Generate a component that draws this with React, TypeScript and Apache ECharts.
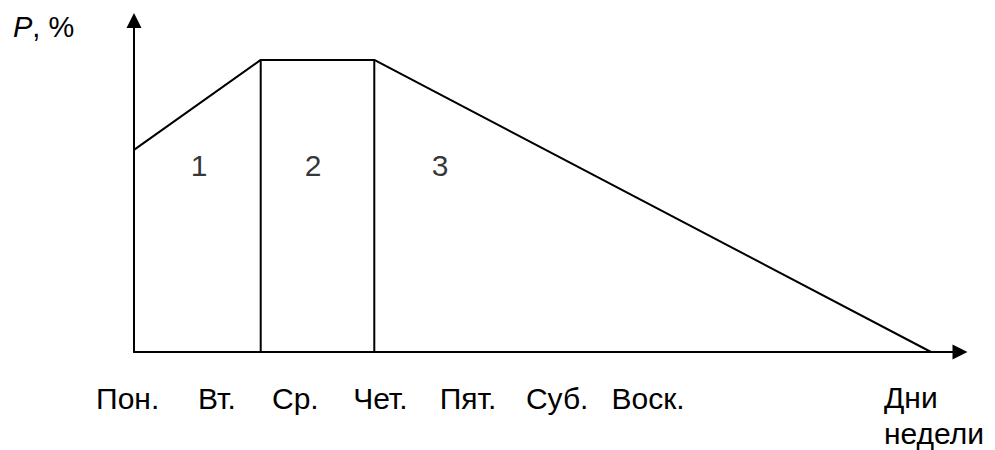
import React, { useEffect, useRef } from "react";
import * as echarts from "echarts";

// Day labels along the horizontal axis and their positions (axis units)
const dayLabels = ["Пон.", "Вт.", "Ср.", "Чет.", "Пят.", "Суб.", "Воск."];
const dayLabelPositions = [0.2, 11.0, 20.5, 30.8, 41.4, 52.2, 63.2];

// Load profile P, % (schematic)
const profileX = [0, 15.34, 29.09, 96.49];
const profileY = [69.2, 100, 100, 0];

// Vertical dividers between zones
const dividerX = [15.34, 29.09];
const dividerTop = 100;

// Zone labels
const zoneNames = ["1", "2", "3"];
const zoneX = [7.87, 21.67, 37.05];
const zoneY = [64, 64, 64];

const X_MAX = 100;
const Y_MAX = 113.5;

const FONT = "'Liberation Sans', Arial, sans-serif";

export default function App() {
  const ref = useRef<HTMLDivElement>(null);

  useEffect(() => {
    if (!ref.current) return;
    const chart = echarts.init(ref.current, undefined, { renderer: "svg" });

    const axisLineStyle = { color: "#000", width: 2 };

    const series: any[] = [
      {
        type: "line",
        data: profileX.map((x, i) => [x, profileY[i]]),
        symbol: "none",
        lineStyle: { color: "#000", width: 2 },
        z: 3,
      },
      ...dividerX.map((x) => ({
        type: "line",
        data: [
          [x, 0],
          [x, dividerTop],
        ],
        symbol: "none",
        lineStyle: { color: "#000", width: 2 },
        z: 3,
      })),
      {
        type: "scatter",
        symbolSize: 0,
        data: zoneNames.map((n, i) => ({ name: n, value: [zoneX[i], zoneY[i]] })),
        label: {
          show: true,
          position: "inside",
          formatter: (p: any) => p.name,
          color: "#000",
          fontSize: 30,
          fontFamily: FONT,
        },
      },
    ];

    chart.setOption({
      animation: false,
      backgroundColor: "#fff",
      grid: { left: 134, right: 35, top: 20.5, bottom: 98, containLabel: false },
      xAxis: {
        type: "value",
        min: 0,
        max: X_MAX,
        axisLine: {
          show: true,
          symbol: ["none", "triangle"],
          symbolSize: [15, 15],
          lineStyle: axisLineStyle,
        },
        axisTick: { show: false },
        splitLine: { show: false },
        axisLabel: {
          show: true,
          customValues: dayLabelPositions,
          formatter: (v: number) => {
            let best = 0;
            for (let i = 0; i < dayLabelPositions.length; i++) {
              if (Math.abs(dayLabelPositions[i] - v) < Math.abs(dayLabelPositions[best] - v)) best = i;
            }
            return dayLabels[best];
          },
          color: "#000",
          fontSize: 30,
          fontFamily: FONT,
          margin: 31,
          padding: [0, 16, 0, 0],
          showMinLabel: true,
          showMaxLabel: true,
        },
      },
      yAxis: {
        type: "value",
        min: 0,
        max: Y_MAX,
        axisLine: {
          show: true,
          symbol: ["none", "triangle"],
          symbolSize: [15, 15],
          lineStyle: axisLineStyle,
        },
        axisTick: { show: false },
        splitLine: { show: false },
        axisLabel: { show: false },
      },
      graphic: [
        {
          type: "text",
          left: 13,
          top: 12,
          style: {
            text: "{i|P}, %",
            fill: "#000",
            font: `29px ${FONT}`,
            rich: {
              i: { fontStyle: "italic", fontSize: 29, fontFamily: FONT, fill: "#000" },
            },
          },
        },
        {
          type: "text",
          left: 884,
          top: 379,
          style: {
            text: "Дни\nнедели",
            fill: "#000",
            font: `30px ${FONT}`,
            lineHeight: 36,
          },
        },
      ],
      series,
    });

    return () => chart.dispose();
  }, []);

  return (
    <div
      ref={ref}
      style={{ position: "fixed", left: 0, top: 0, width: 995, height: 450, background: "#fff" }}
    />
  );
}
